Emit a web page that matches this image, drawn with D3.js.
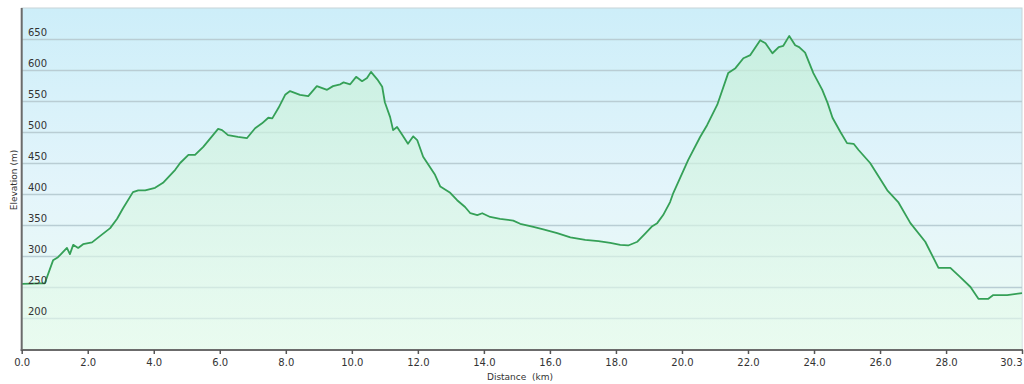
<!DOCTYPE html>
<html><head><meta charset="utf-8">
<script src="https://cdn.jsdelivr.net/npm/d3@7/dist/d3.min.js"></script>
<style>
html,body{margin:0;padding:0;background:#fff;}
svg text{font-family:"DejaVu Sans",Verdana,sans-serif;}
</style></head>
<body><svg id="chart" width="1024" height="384"></svg>
<script>
const distanceKm = [0,0.55,0.7,0.95,1.1,1.37,1.46,1.56,1.71,1.86,2.13,2.37,2.68,2.89,3.07,3.37,3.53,3.74,4.04,4.28,4.65,4.8,5.05,5.25,5.5,5.95,6.07,6.25,6.55,6.82,7.07,7.28,7.47,7.59,7.78,7.98,8.13,8.43,8.68,8.94,9.25,9.43,9.65,9.75,9.95,10.13,10.31,10.46,10.58,10.77,10.92,11.0,11.16,11.25,11.37,11.53,11.7,11.86,11.98,12.16,12.52,12.68,12.98,13.19,13.43,13.59,13.8,13.95,14.19,14.49,14.89,15.1,15.5,15.8,16.22,16.62,17.07,17.47,17.83,18.13,18.37,18.65,18.9,19.1,19.25,19.43,19.64,19.74,20.19,20.55,20.76,21.07,21.4,21.62,21.86,22.07,22.37,22.53,22.74,22.93,23.07,23.25,23.43,23.55,23.73,23.98,24.25,24.41,24.56,24.8,25.0,25.2,25.35,25.7,26.22,26.55,26.92,27.37,27.77,28.13,28.43,28.74,28.98,29.28,29.43,29.85,30.3];
const elevationM = [255,256,256,293,298,313,303,318,313,319,322,332,345,360,377,403,406,406,410,418,439,450,463,463,476,505,503,495,492,490,506,514,523,522,539,560,566,560,558,574,568,574,577,580,577,589,582,587,597,585,573,548,524,503,508,495,481,493,487,460,431,412,402,390,379,369,366,369,363,360,357,352,347,343,337,330,326,324,321,318,317,323,337,348,353,366,387,402,455,492,511,544,595,603,619,624,648,643,627,637,639,655,640,637,628,595,568,547,523,500,482,481,471,450,406,387,353,323,281,281,266,250,231,231,237,237,240];
const yTicks = [200,250,300,350,400,450,500,550,600,650];
const xTicks = [0,2,4,6,8,10,12,14,16,18,20,22,24,26,28,30.3];
const yLabel = "Elevation (m)";
const xLabel = "Distance  (km)";

const L=21.7, R=1022, T=8, B=350;
const svg = d3.select("#chart");
const x = d3.scaleLinear().domain([0,30.3]).range([L,R]);
const y = d3.scaleLinear().domain([148.4,700]).range([B,T]);
const data = distanceKm.map((d,i)=>({d, e:elevationM[i]}));

const defs = svg.append("defs");
const bg = defs.append("linearGradient").attr("id","bg").attr("x1",0).attr("y1",0).attr("x2",0).attr("y2",1);
bg.append("stop").attr("offset","0%").attr("stop-color","#cdeef9");
bg.append("stop").attr("offset","55%").attr("stop-color","#e4f5fb");
bg.append("stop").attr("offset","100%").attr("stop-color","#ecfcf2");
const ag = defs.append("linearGradient").attr("id","ag").attr("x1",0).attr("y1",0).attr("x2",0).attr("y2",1);
ag.append("stop").attr("offset","0%").attr("stop-color","#c4efd6").attr("stop-opacity",0.7);
ag.append("stop").attr("offset","100%").attr("stop-color","#e8fbee").attr("stop-opacity",0.6);

svg.append("rect").attr("x",L).attr("y",T).attr("width",R-L).attr("height",B-T)
  .attr("fill","url(#bg)").attr("stroke","#c8d4d8").attr("stroke-width",1);

svg.append("g").selectAll("line").data(yTicks).join("line")
  .attr("x1",L).attr("x2",R).attr("y1",d=>Math.round(y(d))+0.5).attr("y2",d=>Math.round(y(d))+0.5)
  .attr("stroke","#b9cdd4").attr("stroke-width",1.5);

svg.append("path").datum(data)
  .attr("d", d3.area().x(p=>x(p.d)).y0(B).y1(p=>y(p.e)))
  .attr("fill","url(#ag)");

svg.append("path").datum(data)
  .attr("d", d3.line().x(p=>x(p.d)).y(p=>y(p.e)))
  .attr("fill","none").attr("stroke","#35a057").attr("stroke-width",1.8).attr("stroke-linejoin","round");

svg.append("g").selectAll("text").data(yTicks).join("text")
  .attr("x",28).attr("y",d=>y(d)-3).attr("font-size",10).attr("fill","#333").text(d=>d);

svg.append("line").attr("x1",L).attr("x2",L).attr("y1",T).attr("y2",B+1).attr("stroke","#6b6b6b").attr("stroke-width",2);
svg.append("line").attr("x1",L-1).attr("x2",R+1).attr("y1",B).attr("y2",B).attr("stroke","#6b6b6b").attr("stroke-width",2);

const xAxis = svg.append("g").attr("transform",`translate(0,${B})`)
  .call(d3.axisBottom(x).tickValues(xTicks).tickFormat(d3.format(".1f")).tickSize(4).tickSizeOuter(0));
xAxis.select(".domain").remove();
xAxis.selectAll(".tick line").attr("stroke","#555").attr("stroke-width",1.5);
xAxis.selectAll(".tick text").attr("font-size",10).attr("fill","#333").attr("dy","0.85em")
  .attr("font-family","DejaVu Sans, Verdana, sans-serif");
xAxis.selectAll(".tick").filter(d=>d===30.3).select("text").attr("text-anchor","end").attr("dx","0");

svg.append("text").attr("x",520).attr("y",380).attr("text-anchor","middle").attr("font-size",9)
  .attr("fill","#333").style("white-space","pre").text(xLabel);
svg.append("text").attr("transform","translate(17,180) rotate(-90)").attr("text-anchor","middle")
  .attr("font-size",9).attr("fill","#333").text(yLabel);
</script></body></html>
